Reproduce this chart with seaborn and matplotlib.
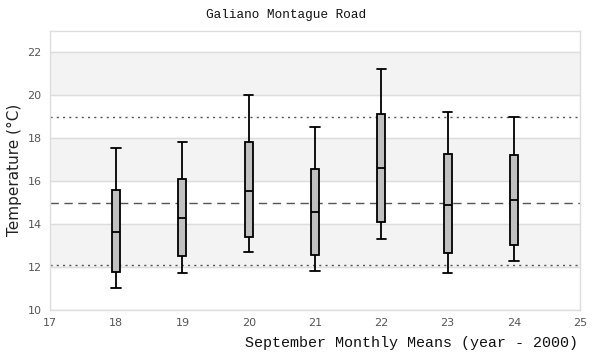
import pandas as pd
import matplotlib
matplotlib.use("Agg")
import matplotlib.pyplot as plt
import seaborn as sns

# -----------------------------
# Data: five-number summaries per year (min, q1, median, q3, max)
# -----------------------------
years = [18, 19, 20, 21, 22, 23, 24]
low = [11.0, 11.7, 12.7, 11.8, 13.3, 11.7, 12.3]
q1 = [11.75, 12.5, 13.4, 12.55, 14.1, 12.65, 13.0]
median = [13.65, 14.3, 15.55, 14.55, 16.6, 14.9, 15.1]
q3 = [15.57, 16.08, 17.8, 16.55, 19.1, 17.25, 17.2]
high = [17.52, 17.8, 20.0, 18.5, 21.2, 19.2, 19.0]

overall_mean = 15.0
upper_ref = 19.0
lower_ref = 12.1

x_ticks = [17, 18, 19, 20, 21, 22, 23, 24, 25]
y_ticks = [10, 12, 14, 16, 18, 20, 22]

rows = []
for i, yr in enumerate(years):
    for v in (low[i], q1[i], median[i], q3[i], high[i]):
        rows.append({"year": yr, "temp": v})
df = pd.DataFrame(rows)

# -----------------------------
# Plot
# -----------------------------
sns.set_style("white")
fig, ax = plt.subplots(figsize=(6, 3.6), dpi=100)
fig.subplots_adjust(left=0.083, right=0.967, top=0.915, bottom=0.139)

sns.boxplot(
    data=df, x="year", y="temp", native_scale=True, width=0.12,
    color="#c0c0c0", saturation=1, linecolor="black", linewidth=1.3,
    whis=10, ax=ax, zorder=3,
)
# widen the whisker caps a little
for cont in ax.containers:
    for cap in cont.caps:
        xs = cap.get_xdata()
        mid = (xs[0] + xs[1]) / 2
        cap.set_xdata([mid - 0.07, mid + 0.07])

# alternating horizontal bands and grid
for lo in (12, 16, 20):
    ax.axhspan(lo, lo + 2, color="#f3f3f3", zorder=0)
for yt in y_ticks:
    ax.axhline(yt, color="#dddddd", lw=1, zorder=0.5)

ax.axhline(overall_mean, color="#555555", lw=1, ls=(0, (6, 4)), zorder=1)
ax.axhline(upper_ref, color="#555555", lw=1, ls=(0, (1.5, 3)), zorder=1)
ax.axhline(lower_ref, color="#555555", lw=1, ls=(0, (1.5, 3)), zorder=1)

ax.set_xlim(17, 25)
ax.set_ylim(10, 23)
ax.set_xticks(x_ticks)
ax.set_yticks(y_ticks)
ax.tick_params(axis="both", labelsize=8, colors="#555555", length=0, pad=6)
for s in ax.spines.values():
    s.set_color("#dddddd")
    s.set_linewidth(1)

ax.set_xlabel("")
ax.set_ylabel("Temperature (°C)", fontsize=11, family="DejaVu Sans", color="#222222")
fig.text(0.963, 0.035, "September Monthly Means (year - 2000)", ha="right",
         family="Liberation Mono", fontsize=10.8, color="#111111")
fig.text(0.477, 0.95, "Galiano Montague Road", ha="center",
         family="Liberation Mono", fontsize=9.2, color="#111111")

plt.savefig("out.png", dpi=100)
